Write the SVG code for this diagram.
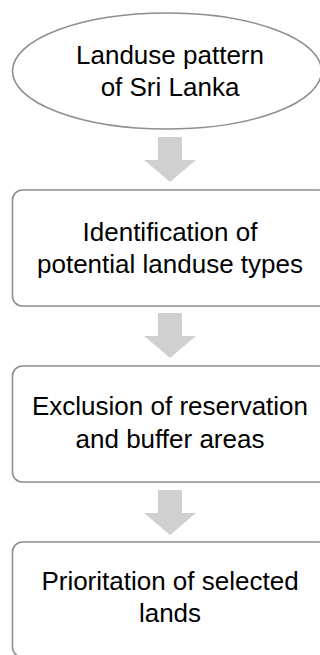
<svg xmlns="http://www.w3.org/2000/svg" width="320" height="655" viewBox="0 0 320 655">
<defs>
<style>
.shape{fill:#ffffff;stroke:#8f8f8f;stroke-width:1.6}
.arrow{fill:#d0d0d0;stroke:none}
.t{font-family:"Liberation Sans",Arial,sans-serif;font-size:26px;fill:#000000;text-anchor:middle}
</style>
<path id="arr" d="M-12,0 H12 V23 H26 L0,45 L-26,23 H-12 Z"/>
</defs>
<rect width="320" height="655" fill="#ffffff"/>
<g id="connectors">
<use href="#arr" class="arrow" x="170" y="137"/>
<use href="#arr" class="arrow" x="170" y="313"/>
<use href="#arr" class="arrow" x="170" y="490"/>
</g>
<g id="n1">
<ellipse class="shape" cx="167" cy="71" rx="154.5" ry="58"/>
<text class="t" x="170" y="64">Landuse pattern</text>
<text class="t" x="170" y="96">of Sri Lanka</text>
</g>
<g id="n2">
<rect class="shape" x="12.5" y="190" width="316" height="116" rx="10"/>
<text class="t" x="170" y="241">Identification of</text>
<text class="t" x="170" y="273">potential landuse types</text>
</g>
<g id="n3">
<rect class="shape" x="12.5" y="366" width="316" height="116" rx="10"/>
<text class="t" x="170" y="415">Exclusion of reservation</text>
<text class="t" x="170" y="448">and buffer areas</text>
</g>
<g id="n4">
<rect class="shape" x="12.5" y="542" width="316" height="115" rx="10"/>
<text class="t" x="170" y="590">Prioritation of selected</text>
<text class="t" x="170" y="622">lands</text>
</g>
</svg>
